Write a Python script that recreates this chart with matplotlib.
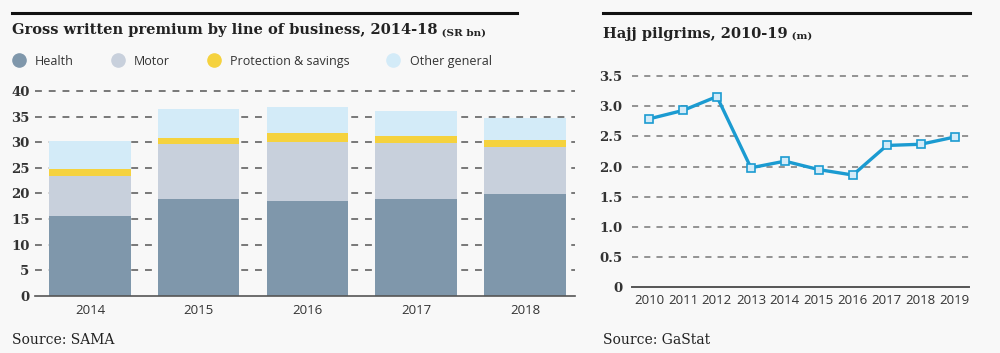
import matplotlib
matplotlib.use("Agg")
import matplotlib.pyplot as plt
from matplotlib.lines import Line2D
import numpy as np

# ---- data ----
years_gwp = ["2014", "2015", "2016", "2017", "2018"]
health = [15.6, 18.9, 18.5, 18.9, 19.8]
motor = [7.8, 10.7, 11.6, 10.9, 9.3]
protection = [1.3, 1.3, 1.7, 1.4, 1.3]
other_general = [5.5, 5.5, 5.0, 4.9, 4.4]
series_names = ["Health", "Motor", "Protection & savings", "Other general"]

hajj_years = [2010, 2011, 2012, 2013, 2014, 2015, 2016, 2017, 2018, 2019]
hajj_pilgrims = [2.79, 2.93, 3.16, 1.98, 2.09, 1.95, 1.86, 2.35, 2.37, 2.49]

left_yticks = [0, 5, 10, 15, 20, 25, 30, 35, 40]
right_yticks = [0, 0.5, 1.0, 1.5, 2.0, 2.5, 3.0, 3.5]
right_ytick_labels = ["0", "0.5", "1.0", "1.5", "2.0", "2.5", "3.0", "3.5"]

# ---- style ----
BG = "#f8f8f8"
colors = ["#7f97ab", "#c8d0dc", "#f5d23e", "#d3ebf8"]
LINE = "#1b9bd1"
SERIF = ["DejaVu Serif"]
SANS = ["Open Sans", "DejaVu Sans"]

fig = plt.figure(figsize=(10, 3.53), dpi=100, facecolor=BG)

# top rules
fig.add_artist(Line2D([0.012, 0.517], [0.963, 0.963], color="#111111", lw=2.2))
fig.add_artist(Line2D([0.603, 0.970], [0.963, 0.963], color="#111111", lw=2.2))

# ---- left chart ----
ax1 = fig.add_axes([0.035, 0.1623, 0.54, 0.58], facecolor=BG)
x = np.arange(len(years_gwp))
bottom = np.zeros(len(x))
for vals, c, name in zip([health, motor, protection, other_general], colors, series_names):
    ax1.bar(x, vals, width=0.75, bottom=bottom, color=c, label=name, zorder=3)
    bottom += np.array(vals)
ax1.set_xlim(-0.505, 4.46)
ax1.set_ylim(0, 40)
ax1.set_yticks(left_yticks)
ax1.set_yticklabels([str(v) for v in left_yticks], fontfamily=SERIF, fontsize=9.5,
                    fontweight="bold", color="#333333")
ax1.set_xticks(x)
ax1.set_xticklabels(years_gwp, fontfamily=SANS, fontsize=9.5, color="#333333")
ax1.tick_params(axis="both", length=0)
ax1.tick_params(axis="y", pad=4)
ax1.tick_params(axis="x", pad=6)
for t in left_yticks[1:]:
    ax1.axhline(t, color="#555555", lw=1.1, ls=(0, (4.5, 4.5)), zorder=1, clip_on=False)
for s in ["top", "right", "left"]:
    ax1.spines[s].set_visible(False)
ax1.spines["bottom"].set_color("#555555")
ax1.spines["bottom"].set_linewidth(1.2)
ax1.spines["bottom"].set_zorder(4)

handles = [Line2D([], [], marker="o", ls="", markersize=9.5, markerfacecolor=c,
                  markeredgecolor=c) for c in colors]
fig.legend(handles, series_names, loc="center left", bbox_to_anchor=(0.0, 0.827),
           ncol=4, frameon=False, prop={"family": SANS, "size": 9},
           handletextpad=0.7, columnspacing=2.9, handlelength=1.2, labelcolor="#333333")

t1 = fig.text(0.012, 0.903, "Gross written premium by line of business, 2014-18",
              fontfamily=SERIF, fontsize=10.5, fontweight="bold", color="#222222",
              va="baseline", ha="left")
ax1.annotate(" (SR bn)", xy=(1, 0), xycoords=t1, va="bottom", ha="left",
             fontfamily=SERIF, fontsize=7.5, fontweight="bold", color="#222222",
             annotation_clip=False)
fig.text(0.012, 0.025, "Source: SAMA", fontfamily=SERIF, fontsize=10, color="#222222",
         va="baseline", ha="left")

# ---- right chart ----
ax2 = fig.add_axes([0.632, 0.186, 0.337, 0.5986], facecolor=BG)
ax2.plot(hajj_years, hajj_pilgrims, color=LINE, lw=2.4, marker="s", markersize=5.5,
         markerfacecolor="#d3ebf8", markeredgecolor=LINE, markeredgewidth=1.2, zorder=3)
ax2.set_xlim(2009.5, 2019.42)
ax2.set_ylim(0, 3.5)
ax2.set_yticks(right_yticks)
ax2.set_yticklabels(right_ytick_labels, fontfamily=SERIF, fontsize=9.5,
                    fontweight="bold", color="#333333")
ax2.set_xticks(hajj_years)
ax2.set_xticklabels([str(y) for y in hajj_years], fontfamily=SANS, fontsize=9.5,
                    color="#333333")
ax2.tick_params(axis="both", length=0)
ax2.tick_params(axis="y", pad=7)
ax2.tick_params(axis="x", pad=5)
for t in right_yticks[1:]:
    ax2.axhline(t, color="#777777", lw=1.1, ls=(0, (4, 4)), zorder=1, clip_on=False)
for s in ["top", "right", "left"]:
    ax2.spines[s].set_visible(False)
ax2.spines["bottom"].set_color("#555555")
ax2.spines["bottom"].set_linewidth(1.4)

t2 = fig.text(0.603, 0.893, "Hajj pilgrims, 2010-19", fontfamily=SERIF, fontsize=10.5,
              fontweight="bold", color="#222222", va="baseline", ha="left")
ax2.annotate(" (m)", xy=(1, 0), xycoords=t2, va="bottom", ha="left",
             fontfamily=SERIF, fontsize=7.5, fontweight="bold", color="#222222",
             annotation_clip=False)
fig.text(0.603, 0.025, "Source: GaStat", fontfamily=SERIF, fontsize=10, color="#222222",
         va="baseline", ha="left")

fig.savefig("out.png", dpi=100, facecolor=BG)
